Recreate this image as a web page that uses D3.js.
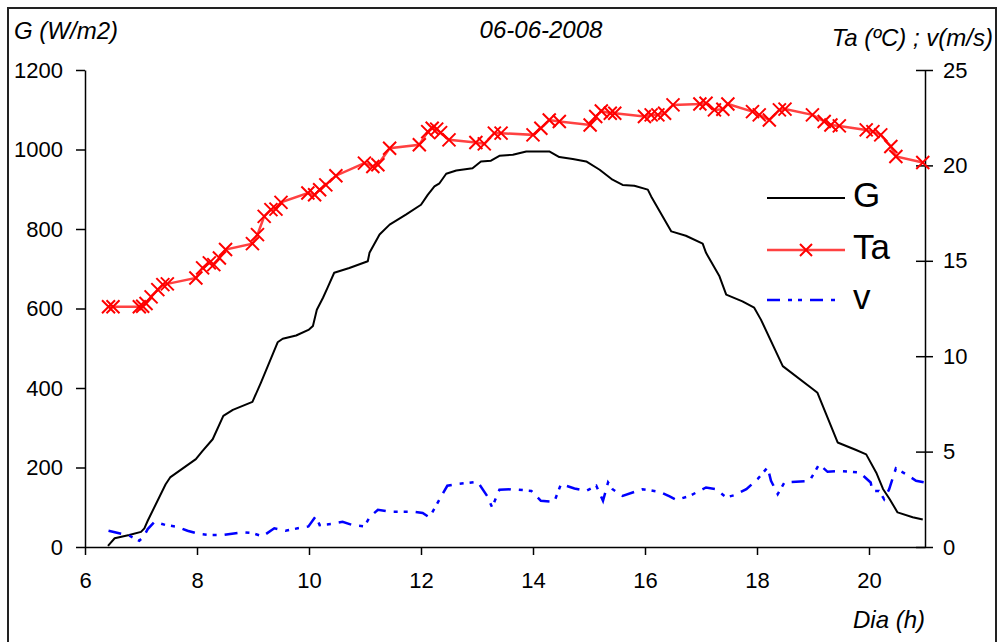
<!DOCTYPE html>
<html>
<head>
<meta charset="utf-8">
<script src="https://cdn.jsdelivr.net/npm/d3@7"></script>
<style>
  html, body { margin: 0; padding: 0; background: #fff; }
  svg { display: block; }
  text { font-family: Arial, "Liberation Sans", sans-serif; }
</style>
</head>
<body>
<svg id="chart" width="1001" height="642"></svg>
<script>
// Solar irradiance G (W/m2) over the day
const gHours = [6.41,6.53,6.79,7.00,7.06,7.12,7.44,7.52,7.98,8.10,8.28,8.47,8.64,8.99,9.14,9.44,9.53,9.77,10.00,10.07,10.14,10.25,10.33,10.45,10.72,11.05,11.08,11.26,11.44,11.73,12.00,12.12,12.24,12.33,12.45,12.63,12.92,13.07,13.25,13.40,13.64,13.88,14.29,14.47,14.71,14.95,15.19,15.42,15.60,15.81,16.05,16.11,16.47,16.73,17.03,17.09,17.33,17.45,17.74,17.95,18.07,18.46,19.00,19.08,19.44,19.77,19.95,20.13,20.25,20.37,20.51,20.78,20.96];
const gValues = [3,22,30,38,47,66,158,175,221,242,271,330,345,365,413,515,524,532,547,556,597,627,652,690,702,719,740,786,811,836,861,886,907,915,939,947,953,970,972,984,987,995,995,981,976,970,949,924,911,909,899,882,794,783,763,740,681,635,618,602,572,455,397,388,263,244,233,187,146,120,87,75,69];

// Air temperature Ta (ºC)
const taHours = [6.42,6.50,6.97,7.03,7.09,7.18,7.30,7.39,7.47,7.98,8.10,8.22,8.30,8.40,8.51,8.99,9.08,9.20,9.32,9.41,9.50,9.98,10.10,10.19,10.30,10.48,10.99,11.14,11.23,11.44,11.97,12.12,12.20,12.28,12.35,12.50,12.98,13.13,13.31,13.43,14.00,14.14,14.29,14.47,15.02,15.12,15.22,15.38,15.46,15.99,16.11,16.23,16.35,16.50,16.98,17.09,17.24,17.39,17.48,17.92,18.04,18.22,18.40,18.50,18.99,19.20,19.32,19.47,19.95,20.07,20.21,20.39,20.48,20.96];
const taValues = [12.59,12.59,12.59,12.62,12.76,13.11,13.49,13.75,13.79,14.10,14.63,14.89,14.80,15.15,15.59,15.90,16.37,17.33,17.68,17.71,18.06,18.55,18.46,18.72,18.98,19.46,20.12,19.94,20.03,20.90,21.08,21.77,21.95,21.90,21.72,21.34,21.20,21.13,21.69,21.69,21.60,21.95,22.38,22.30,22.12,22.56,22.85,22.73,22.73,22.56,22.65,22.65,22.73,23.17,23.22,23.26,22.91,22.94,23.22,22.82,22.65,22.38,22.91,22.95,22.65,22.30,22.12,22.07,21.86,21.77,21.60,20.99,20.47,20.15];

// Wind speed v (m/s)
const vHours = [6.42,6.79,6.97,7.05,7.12,7.24,7.44,7.65,7.83,8.04,8.22,8.46,8.82,8.99,9.17,9.38,9.58,9.80,9.99,10.12,10.19,10.39,10.60,10.78,10.99,11.08,11.23,11.44,11.85,12.03,12.15,12.35,12.47,12.65,13.01,13.18,13.27,13.40,13.64,13.97,14.14,14.38,14.50,14.74,14.95,15.13,15.25,15.34,15.42,15.60,15.96,16.26,16.44,16.56,16.80,17.09,17.27,17.45,17.60,17.81,18.01,18.19,18.25,18.37,18.49,18.94,19.11,19.26,19.47,19.83,20.03,20.06,20.18,20.27,20.36,20.48,20.66,20.84,21.00];
const vValues = [0.85,0.59,0.33,0.55,0.94,1.32,1.15,1.06,0.85,0.68,0.63,0.63,0.77,0.73,0.56,0.98,0.85,0.98,1.08,1.61,1.15,1.20,1.32,1.15,1.08,1.55,1.95,1.85,1.85,1.78,1.55,2.60,3.21,3.30,3.42,2.68,2.08,3.00,3.03,2.94,2.42,2.37,3.30,3.07,2.94,3.21,2.42,3.38,3.03,2.68,3.03,2.89,2.65,2.47,2.68,3.12,3.03,2.60,2.72,3.03,3.56,4.17,3.47,2.77,3.38,3.47,4.34,3.94,3.99,3.91,3.38,2.94,2.94,2.51,3.03,4.12,3.82,3.47,3.38];

// Axis ticks
const hourTicks = [6,8,10,12,14,16,18,20];
const gTicks = [0,200,400,600,800,1000,1200];
const rightTicks = [0,5,10,15,20,25];

const legendNames = ["G","Ta","v"];

const svg = d3.select("#chart");

// outer frame
svg.append("rect")
  .attr("x", 8).attr("y", 8).attr("width", 988).attr("height", 700)
  .attr("fill", "none").attr("stroke", "#222").attr("stroke-width", 2);

const plotLeft = 85, plotRight = 925, plotTop = 70, plotBottom = 547;

const x = d3.scaleLinear().domain([6, 21]).range([plotLeft, plotRight]);
const yG = d3.scaleLinear().domain([0, 1200]).range([plotBottom, plotTop]);
const yR = d3.scaleLinear().domain([0, 25]).range([plotBottom, plotTop]);

function styleAxis(g) {
  g.selectAll("path.domain").attr("stroke", "#000").attr("stroke-width", 1.5);
  g.selectAll(".tick line").attr("stroke", "#000").attr("stroke-width", 1.5);
  g.selectAll(".tick text").attr("font-size", 22).attr("fill", "#000")
    .attr("font-family", 'Arial, "Liberation Sans", sans-serif');
}

const plain = d3.format("d");

// bottom axis
const gx = svg.append("g").attr("transform", `translate(0,${plotBottom})`)
  .call(d3.axisBottom(x).tickValues(hourTicks).tickFormat(plain)
    .tickSize(8).tickPadding(17).tickSizeOuter(0));
styleAxis(gx);

// left axis (G)
const gl = svg.append("g").attr("transform", `translate(${plotLeft},0)`)
  .call(d3.axisLeft(yG).tickValues(gTicks).tickFormat(plain)
    .tickSize(9).tickPadding(13).tickSizeOuter(0));
styleAxis(gl);

// right axis (Ta, v) with ticks crossing the axis line
const gr = svg.append("g").attr("transform", `translate(${plotRight},0)`)
  .call(d3.axisRight(yR).tickValues(rightTicks).tickFormat(plain)
    .tickSize(8).tickPadding(10).tickSizeOuter(0));
gr.selectAll(".tick line").attr("x1", -9);
styleAxis(gr);

// series
const gLine = d3.line().x((d, i) => x(gHours[i])).y(d => yG(d));
svg.append("path").datum(gValues)
  .attr("d", gLine).attr("fill", "none")
  .attr("stroke", "#000").attr("stroke-width", 2).attr("stroke-linejoin", "round");

const vLine = d3.line().x((d, i) => x(vHours[i])).y(d => yR(d));
svg.append("path").datum(vValues)
  .attr("d", vLine).attr("fill", "none")
  .attr("stroke", "#0000ff").attr("stroke-width", 2.5)
  .attr("stroke-dasharray", "13,8,4,6,4,8");

const taLine = d3.line().x((d, i) => x(taHours[i])).y(d => yR(d));
svg.append("path").datum(taValues)
  .attr("d", taLine).attr("fill", "none")
  .attr("stroke", "#ff2020").attr("stroke-width", 2.5).attr("stroke-opacity", 0.85);

const cross = "M-6.5,-6.5L6.5,6.5M-6.5,6.5L6.5,-6.5";
svg.append("g").selectAll("path")
  .data(taValues)
  .join("path")
  .attr("transform", (d, i) => `translate(${x(taHours[i])},${yR(d)})`)
  .attr("d", cross)
  .attr("fill", "none").attr("stroke", "#ff0000").attr("stroke-width", 2);

// legend
const legend = svg.append("g");
const legY = [198, 250, 300];
legendNames.forEach((name, i) => {
  const ln = legend.append("line")
    .attr("x1", 767).attr("x2", 845).attr("y1", legY[i]).attr("y2", legY[i])
    .attr("stroke-width", i === 0 ? 2 : 2.5);
  if (i === 0) ln.attr("stroke", "#000");
  if (i === 1) {
    ln.attr("stroke", "#ff2020").attr("stroke-opacity", 0.85);
    legend.append("path").attr("d", "M-6,-6L6,6M-6,6L6,-6")
      .attr("transform", `translate(806,${legY[i]})`)
      .attr("stroke", "#ff0000").attr("stroke-width", 2);
  }
  if (i === 2) ln.attr("stroke", "#0000ff").attr("stroke-dasharray", "13,8,4,6,4,8").attr("x2", 838);
  legend.append("text")
    .attr("x", 853).attr("y", legY[i] + 9)
    .attr("font-size", 35).attr("fill", "#000")
    .text(name);
});

// titles
svg.append("text").attr("x", 14).attr("y", 39)
  .attr("font-size", 24).attr("font-style", "italic").text("G (W/m2)");
svg.append("text").attr("x", 541).attr("y", 38).attr("text-anchor", "middle")
  .attr("font-size", 24).attr("font-style", "italic").text("06-06-2008");
svg.append("text").attr("x", 993).attr("y", 46).attr("text-anchor", "end")
  .attr("font-size", 24).attr("font-style", "italic").text("Ta (ºC) ; v(m/s)");
svg.append("text").attr("x", 925).attr("y", 628).attr("text-anchor", "end")
  .attr("font-size", 24).attr("font-style", "italic").text("Dia (h)");
</script>
</body>
</html>
